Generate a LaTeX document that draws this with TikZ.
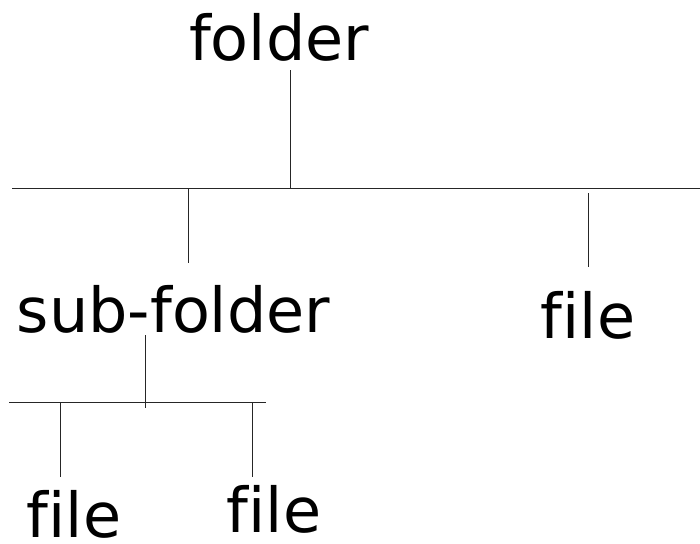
\documentclass[tikz,border=0pt]{standalone}
\usepackage{fontspec}
\setmainfont[Ligatures={NoCommon}]{DejaVu Sans}
\begin{document}
\begin{tikzpicture}[x=1pt,y=-1pt,
  lbl/.style={anchor=base,inner sep=0pt,font=\fontsize{62}{62}\selectfont},
  ln/.style={line width=0.9pt,draw=black!85}]
\useasboundingbox (0,0) rectangle (700,543);
% labels
\node[lbl] (folder) at (279,60) {folder};
\node[lbl] (sub) at (173.5,332) {sub-folder};
\node[lbl] (fileR) at (588,338) {file};
\node[lbl] (fileL) at (74,537) {file};
\node[lbl] (fileM) at (274,532) {file};
% coordinates
\coordinate (f1) at (290,70);
\coordinate (f2) at (290,188);
\coordinate (h1a) at (12,188);
\coordinate (h1b) at (700,188);
\coordinate (s1) at (188,188);
\coordinate (s2) at (188,263);
\coordinate (r1) at (588,193);
\coordinate (r2) at (588,267);
\coordinate (t1) at (145,335);
\coordinate (t2) at (145,408);
\coordinate (h2a) at (9,402);
\coordinate (h2b) at (266,402);
\coordinate (l1) at (60,402);
\coordinate (l2) at (60,477);
\coordinate (m1) at (252,402);
\coordinate (m2) at (252,477);
% lines
\draw[ln] (f1) -- (f2);
\draw[ln] (h1a) -- (h1b);
\draw[ln] (s1) -- (s2);
\draw[ln] (r1) -- (r2);
\draw[ln] (t1) -- (t2);
\draw[ln] (h2a) -- (h2b);
\draw[ln] (l1) -- (l2);
\draw[ln] (m1) -- (m2);
\end{tikzpicture}
\end{document}
